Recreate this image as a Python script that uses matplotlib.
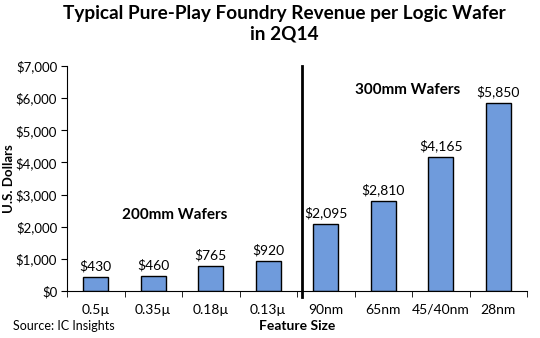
import matplotlib.pyplot as plt
import numpy as np

plt.rcParams["font.family"] = ["Lato", "DejaVu Sans"]

features = ["0.5\u00b5", "0.35\u00b5", "0.18\u00b5", "0.13\u00b5", "90nm", "65nm", "45/40nm", "28nm"]
revenue = [430, 460, 765, 920, 2095, 2810, 4165, 5850]

fig = plt.figure(figsize=(5.4, 3.38), dpi=100)
ax = fig.add_axes([67 / 540, 1 - 291 / 338, 460 / 540, 225 / 338])

x = np.arange(len(features))
ax.bar(x, revenue, width=0.44, color="#6f9bdc", edgecolor="black", linewidth=1.0, zorder=2)
for xi, v in zip(x, revenue):
    ax.text(xi, v + 150, f"${v:,}", ha="center", va="bottom", fontsize=10)

ax.set_xlim(-0.5, 7.5)
ax.set_ylim(0, 7000)
ax.set_yticks(np.arange(0, 7001, 1000))
ax.set_yticklabels([f"${t:,}" for t in range(0, 7001, 1000)], fontsize=9.5)
ax.set_xticks(x)
ax.set_xticklabels(features, fontsize=10)
ax.set_xticks(np.arange(-0.5, 8, 1), minor=True)
ax.tick_params(axis="x", which="major", length=0, pad=9)
ax.tick_params(axis="x", which="minor", length=4, direction="out")
ax.tick_params(axis="y", length=4, direction="out", pad=3)
for s in ["top", "right"]:
    ax.spines[s].set_visible(False)

# divider between 200mm and 300mm
ax.plot([3.58, 3.58], [7000, -180], color="black", linewidth=2, clip_on=False)

ax.text(1.38, 2370, "200mm Wafers", ha="center", va="center", fontsize=11, fontweight="bold")
ax.text(5.42, 6250, "300mm Wafers", ha="center", va="center", fontsize=11, fontweight="bold")

ax.set_ylabel("U.S. Dollars", fontsize=9.5, fontweight="bold")
ax.yaxis.set_label_coords(-(67 - 15) / 460, 0.5)
fig.text(297 / 540, 1 - 326 / 338, "Feature Size", ha="center", va="center", fontsize=10, fontweight="bold")
fig.text(13 / 540, 1 - 326 / 338, "Source: IC Insights", ha="left", va="center", fontsize=9)
fig.suptitle("Typical Pure-Play Foundry Revenue per Logic Wafer\nin 2Q14", x=284 / 540, y=0.985,
             fontsize=13.7, fontweight="bold", linespacing=1.25)

fig.savefig("out.png", dpi=100)
